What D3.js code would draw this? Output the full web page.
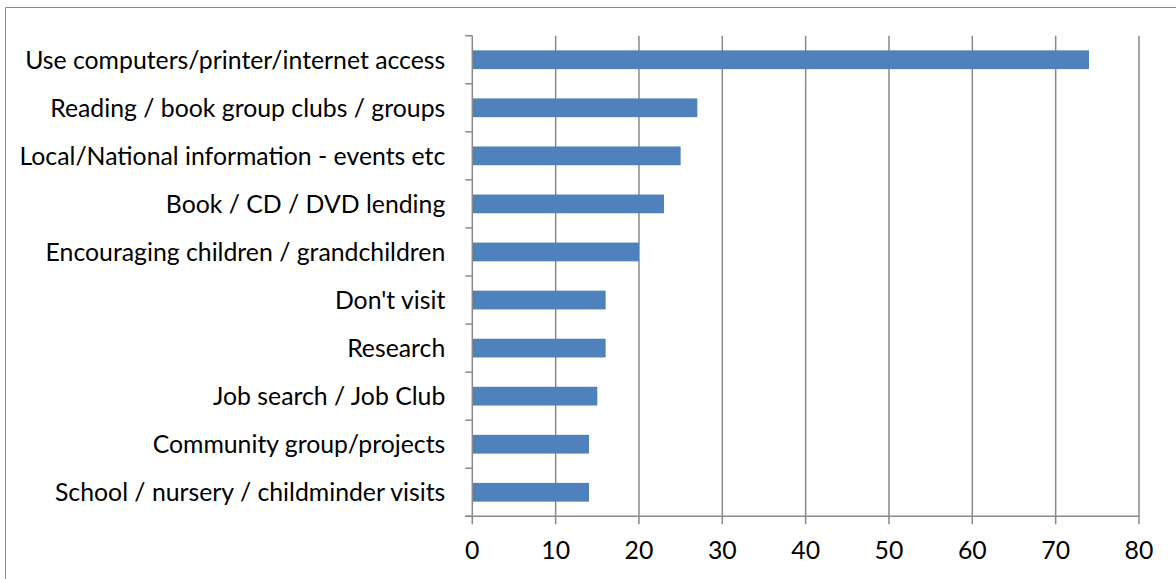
<!DOCTYPE html>
<html>
<head>
<meta charset="utf-8">
<script src="https://cdn.jsdelivr.net/npm/d3@7"></script>
<style>
  html, body { margin: 0; padding: 0; background: #fff; }
  svg { display: block; }
</style>
</head>
<body>
<svg id="chart" width="1176" height="579"></svg>
<script>
const categories = [
  "Use computers/printer/internet access",
  "Reading / book group clubs / groups",
  "Local/National information - events etc",
  "Book / CD / DVD lending",
  "Encouraging children / grandchildren",
  "Don't visit",
  "Research",
  "Job search / Job Club",
  "Community group/projects",
  "School / nursery / childminder visits"
];
const values = [74, 27, 25, 23, 20, 16, 16, 15, 14, 14];
const xTicks = [0, 10, 20, 30, 40, 50, 60, 70, 80];

(function () {
const svg = d3.select("#chart");
const fontFamily = "Lato, 'Open Sans', sans-serif";
const pLeft = 472.3, pRight = 1139, pTop = 35.7, pBottom = 516.3;
const gridColor = "#898989";

// outer frame (top and left edges visible)
svg.append("path")
  .attr("d", "M5.5,1000 L5.5,7.5 L2000,7.5")
  .attr("fill", "none").attr("stroke", "#8c8c8c").attr("stroke-width", 1);

const x = d3.scaleLinear().domain([0, 80]).range([pLeft, pRight]);
const y = d3.scaleBand().domain(categories).range([pTop, pBottom])
  .paddingInner(0.61).paddingOuter(0.305);

// vertical gridlines
svg.append("g").selectAll("line").data(xTicks.slice(1)).join("line")
  .attr("x1", d => x(d)).attr("x2", d => x(d))
  .attr("y1", pTop).attr("y2", pBottom + 8)
  .attr("stroke", gridColor).attr("stroke-width", 1.5);

// bars
svg.append("g").selectAll("rect").data(categories).join("rect")
  .attr("x", x(0))
  .attr("y", d => y(d))
  .attr("width", (d, i) => x(values[i]) - x(0))
  .attr("height", y.bandwidth())
  .attr("fill", "#4F81BD");

// left axis line and category tick marks
const step = (pBottom - pTop) / categories.length;
svg.append("line")
  .attr("x1", x(0)).attr("x2", x(0)).attr("y1", pTop).attr("y2", pBottom + 8)
  .attr("stroke", gridColor).attr("stroke-width", 1.5);
svg.append("g").selectAll("line").data(d3.range(categories.length + 1)).join("line")
  .attr("x1", x(0) - 7).attr("x2", x(0))
  .attr("y1", i => pTop + i * step).attr("y2", i => pTop + i * step)
  .attr("stroke", gridColor).attr("stroke-width", 1.5);

// bottom axis line
svg.append("line")
  .attr("x1", x(0) - 7).attr("x2", x(80)).attr("y1", pBottom).attr("y2", pBottom)
  .attr("stroke", gridColor).attr("stroke-width", 1.5);

// category labels
const labels = svg.append("g").selectAll("text").data(categories).join("text")
  .attr("x", x(0) - 27)
  .attr("y", d => y(d) + y.bandwidth() / 2)
  .attr("dy", "0.36em")
  .attr("text-anchor", "end")
  .attr("font-family", fontFamily)
  .attr("font-size", 20)
  .attr("fill", "#000")
  .text(d => d);

// fit font size so the longest label spans ~426px
let maxW = 0;
labels.each(function () { maxW = Math.max(maxW, this.getComputedTextLength()); });
const fs = 20 * 426 / maxW;
labels.attr("font-size", fs);

// tick labels
svg.append("g").selectAll("text").data(xTicks).join("text")
  .attr("x", d => x(d))
  .attr("y", 559)
  .attr("text-anchor", "middle")
  .attr("font-family", fontFamily)
  .attr("font-size", fs)
  .attr("fill", "#000")
  .text(d => d);
})();
</script>
</body>
</html>
